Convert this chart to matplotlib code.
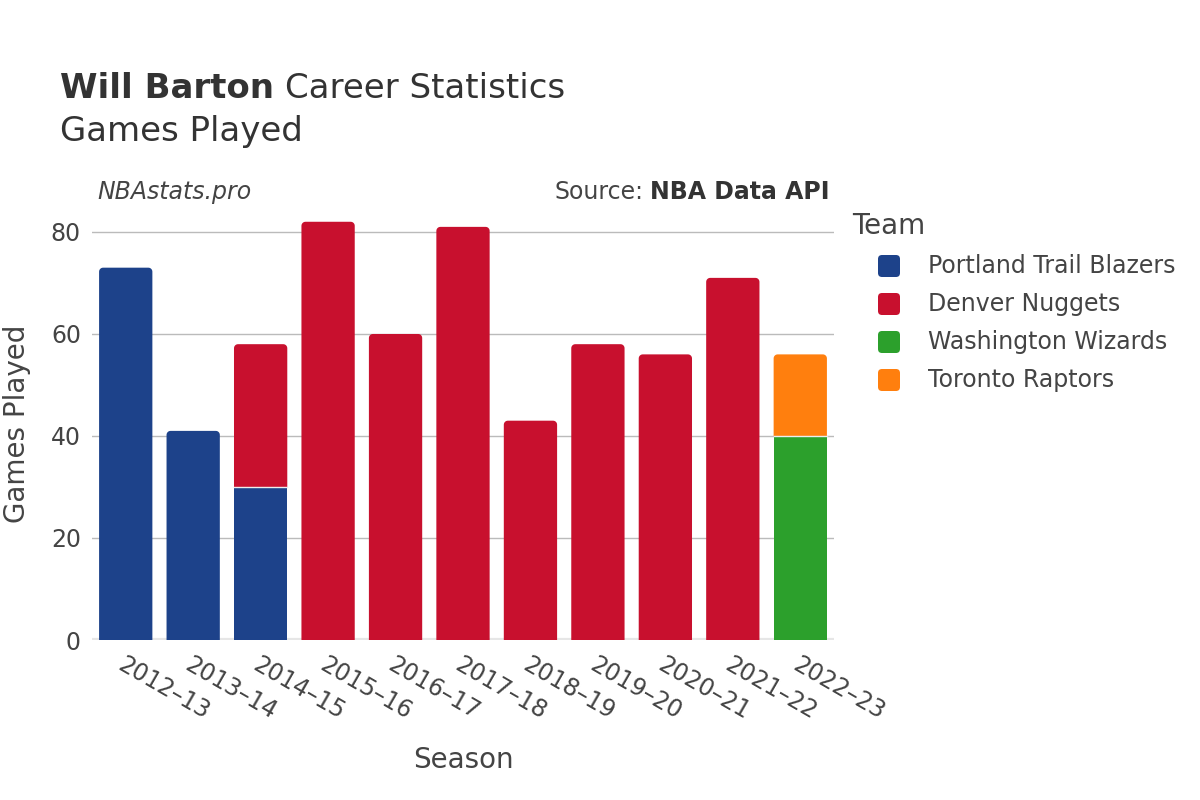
import numpy as np
import matplotlib.pyplot as plt
from matplotlib.patches import FancyBboxPatch, Rectangle, PathPatch
from matplotlib.path import Path

# data
seasons = ['2012–13', '2013–14', '2014–15', '2015–16', '2016–17', '2017–18',
           '2018–19', '2019–20', '2020–21', '2021–22', '2022–23']
teams = ['Portland Trail Blazers', 'Denver Nuggets', 'Washington Wizards', 'Toronto Raptors']
team_colors = ['#1d428a', '#c8102e', '#2ca02c', '#ff7f0e']
por_games = [73, 41, 30, 0, 0, 0, 0, 0, 0, 0, 0]
den_games = [0, 0, 28, 82, 60, 81, 43, 58, 56, 71, 0]
was_games = [0, 0, 0, 0, 0, 0, 0, 0, 0, 0, 40]
tor_games = [0, 0, 0, 0, 0, 0, 0, 0, 0, 0, 16]
series = [por_games, den_games, was_games, tor_games]

txt = '#444444'
dark = '#333333'
plt.rcParams['font.family'] = ['DejaVu Sans']

W, H = 1200, 800
fig = plt.figure(figsize=(12, 8), dpi=100)
ax = fig.add_axes([92 / W, 160 / H, (834 - 92) / W, (640 - 208) / H])
ymax = 84.7
ax.set_xlim(-0.5, len(seasons) - 0.5)
ax.set_ylim(0, ymax)

width = 0.79
# pixel scale so the round corners come out round
px_x = (834 - 92) / len(seasons)
px_y = (640 - 208) / ymax
rx = 4 / px_x
ry = 4 / px_y


def top_rounded(x0, y0, w, h):
    # rectangle with only the two top corners rounded
    t = np.linspace(0, np.pi / 2, 8)
    pts = [(x0, y0), (x0 + w, y0)]
    for a in t:  # right top corner
        pts.append((x0 + w - rx + rx * np.cos(a), y0 + h - ry + ry * np.sin(a)))
    for a in t:  # left top corner
        pts.append((x0 + rx - rx * np.sin(a), y0 + h - ry + ry * np.cos(a)))
    pts.append((x0, y0))
    return Path(pts, closed=True)


totals = [sum(s[i] for s in series) for i in range(len(seasons))]
for i in range(len(seasons)):
    bottom = 0
    for k, s in enumerate(series):
        v = s[i]
        if v == 0:
            continue
        x0 = i - width / 2
        if bottom + v == totals[i]:
            ax.add_patch(PathPatch(top_rounded(x0, bottom, width, v),
                                   fc=team_colors[k], ec='none', zorder=3))
        else:
            ax.add_patch(Rectangle((x0, bottom), width, v,
                                   fc=team_colors[k], ec='none', zorder=3))
        if bottom > 0:
            ax.plot([x0, x0 + width], [bottom, bottom], color='#eeeeee', lw=1, zorder=4)
        bottom += v

ax.set_yticks([0, 20, 40, 60, 80])
ax.yaxis.grid(True, color='#bbbbbb', lw=1, zorder=0)
ax.axhline(0, color='#e6e6e6', lw=3, zorder=2)
for sp in ax.spines.values():
    sp.set_visible(False)
ax.tick_params(axis='both', length=0, labelsize=17, labelcolor=txt)
ax.tick_params(axis='y', pad=8)
ax.set_xticks(range(len(seasons)))
ax.set_xticklabels(seasons, rotation=-30, ha='left', rotation_mode='anchor')
ax.tick_params(axis='x', pad=9)

ax.set_ylabel('Games Played', fontsize=20, color=txt, labelpad=14)
ax.set_xlabel('Season', fontsize=20, color=txt, labelpad=16)

# titles
t1 = fig.text(60 / W, 1 - 88 / H, 'Will Barton', fontsize=24.5, color=dark,
              va='center', fontweight='bold')
fig.canvas.draw()
bb = t1.get_window_extent()
fig.text(bb.x1 / W + 0.009, 1 - 88 / H, 'Career Statistics', fontsize=24.5,
         color=dark, va='center')
fig.text(60 / W, 1 - 132 / H, 'Games Played', fontsize=24.5, color=dark, va='center')

fig.text(97 / W, 1 - 192 / H, 'NBAstats.pro', fontsize=17, color=txt,
         style='italic', va='center')
t2 = fig.text(830 / W, 1 - 192 / H, 'NBA Data API', fontsize=17, color=dark,
              fontweight='bold', va='center', ha='right')
fig.canvas.draw()
bb2 = t2.get_window_extent()
fig.text(bb2.x0 / W - 0.006, 1 - 192 / H, 'Source:', fontsize=17, color=txt,
         va='center', ha='right')

# legend, drawn by hand to get rounded swatches
fig.text(852 / W, 1 - 226 / H, 'Team', fontsize=20, color=txt, va='center')
for k, team in enumerate(teams):
    yc = 266 + 38 * k
    fig.patches.append(FancyBboxPatch((878 / W, 1 - (yc + 11) / H), 22 / W, 22 / H,
                                      boxstyle=f'round,pad=0,rounding_size={4 / W}',
                                      mutation_aspect=W / H,
                                      fc=team_colors[k], ec='none',
                                      transform=fig.transFigure, figure=fig))
    fig.text(928 / W, 1 - yc / H, team, fontsize=17, color=txt, va='center')

fig.savefig('out.png', dpi=100)
